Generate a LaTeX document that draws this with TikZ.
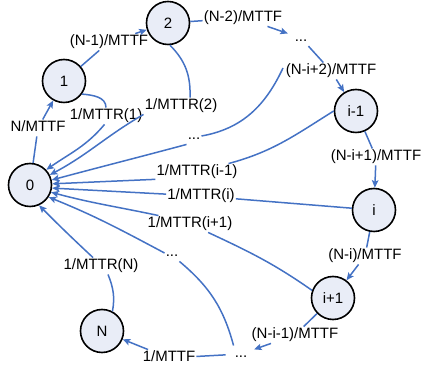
\documentclass[tikz,border=0pt]{standalone}
\usepackage{fontspec}
\setmainfont{Liberation Sans}
\usetikzlibrary{arrows.meta}
\definecolor{linkblue}{RGB}{68,114,196}
\definecolor{statefill}{RGB}{233,237,247}

\begin{document}
\begin{tikzpicture}[x=1pt, y=1pt,
  state/.style = {circle, draw=black, line width=1.6pt, fill=statefill, minimum size=43pt, inner sep=0pt},
  lbl/.style = {inner sep=1pt, text height=11pt, text depth=3.5pt},
  link/.style = {draw=linkblue, line width=1.5pt},
  flow/.style = {link, -{Stealth[length=7.5pt, width=6.5pt, inset=1.5pt]}},
  every node/.style = {font=\fontsize{15}{18}\selectfont},
  ]
  \useasboundingbox (0,0) rectangle (423,369);

  \node[state] (s0)  at (30,184)  {0};
  \node[state] (s1)  at (64,288)  {1};
  \node[state] (s2)  at (168,346) {2};
  \node[state] (sim) at (356,258) {i-1};
  \node[state] (si)  at (374,159) {i};
  \node[state] (sip) at (333,71)  {i+1};
  \node[state] (sN)  at (102,38)  {N};

  \node[lbl] (lA) at (38,241)  {N/MTTF};
  \node[lbl] (lB) at (109,327) {(N-1)/MTTF};
  \node[lbl] (lC) at (243,351) {(N-2)/MTTF};
  \node[lbl] (dA) at (301,331) {...};
  \node[lbl] (lD) at (331,298) {(N-i+2)/MTTF};
  \node[lbl] (lE) at (376,212) {(N-i+1)/MTTF};
  \node[lbl] (lF) at (365,113) {(N-i)/MTTF};
  \node[lbl] (lG) at (295,34)  {(N-i-1)/MTTF};
  \node[lbl] (dB) at (241,15)  {...};
  \node[lbl] (lH) at (169,11)  {1/MTTF};

  \node[lbl] (r1)  at (106,253) {1/MTTR(1)};
  \node[lbl] (r2)  at (181,263) {1/MTTR(2)};
  \node[lbl] (rd)  at (194,233) {...};
  \node[lbl] (rim) at (197,197) {1/MTTR(i-1)};
  \node[lbl] (ri)  at (201,173) {1/MTTR(i)};
  \node[lbl] (rip) at (190,145) {1/MTTR(i+1)};
  \node[lbl] (rd2) at (172,116) {...};
  \node[lbl] (rN)  at (101,103) {1/MTTR(N)};
  \coordinate (rs) at (283,301);

  % failures
  \draw[link] (s0) -- (lA);   \draw[flow] (lA) -- (s1);
  \draw[link] (s1) -- (lB);   \draw[flow] (lB) -- (s2);
  \draw[link] (s2) -- (lC);   \draw[flow, shorten >=6pt] (lC) -- (dA);
  \draw[link] (dA) -- (lD);   \draw[flow] (lD) -- (sim);
  \draw[link] (sim) -- (lE);  \draw[flow] (lE) -- (si);
  \draw[link] (si) -- (lF);   \draw[flow] (lF) -- (sip);
  \draw[link] (sip) -- (lG);  \draw[flow, shorten >=6pt] (lG) -- (dB);
  \draw[link, shorten <=8pt] (dB) -- (lH); \draw[flow] (lH) -- (sN);

  % repairs
  \draw[link] (s1.-36) to[out=-5, in=90] (r1.north);
  \draw[flow] (r1.-100) to[out=-130, in=35] (s0.43);
  \draw[link] (s2.-85) to[out=-45, in=88] ([xshift=9pt]r2.north);
  \draw[flow] (r2.south west) to[out=-150, in=28] (s0.27);
  \draw[link] (rs) to[out=-115, in=10] (rd.east);
  \draw[flow] (rd.south west) to[out=-165, in=15] (s0.13);
  \draw[link] (sim.180) to[out=-148, in=15] (rim);
  \draw[flow] (rim.-170) -- (s0.3);
  \draw[link] (si) -- (ri);
  \draw[flow] (ri) -- (s0.-8);
  \draw[link] (sip.160) to[out=145, in=-25] (rip);
  \draw[flow] (rip.165) to[out=168, in=-15] (s0.-19);
  \draw[link] (dB.north west) to[out=105, in=-40] (rd2.south east);
  \draw[flow] (rd2.west) to[out=152, in=-22] (s0.-33);
  \draw[link] (sN.62) to[out=80, in=-68] ([xshift=7pt]rN.south);
  \draw[flow] ([xshift=-8pt]rN.north) to[out=137, in=-45] (s0.-66);
\end{tikzpicture}
\end{document}
